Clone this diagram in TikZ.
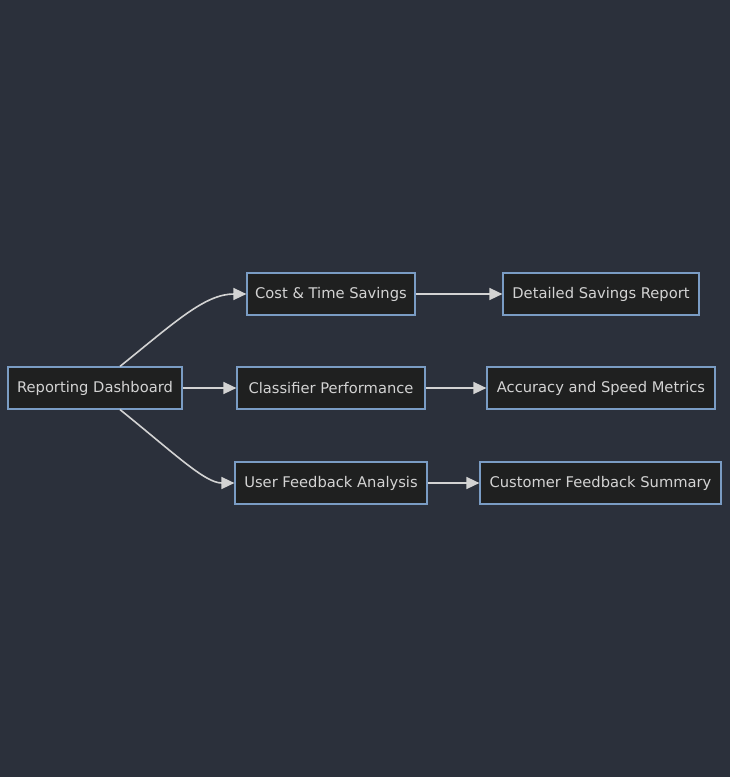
\documentclass[tikz,border=0pt]{standalone}
\usepackage{fontspec}
\setmainfont{DejaVu Sans}
\usetikzlibrary{arrows.meta}
\definecolor{bgdark}{HTML}{2B303B}
\definecolor{boxfill}{HTML}{1F2020}
\definecolor{boxline}{HTML}{7A9CC4}
\definecolor{inkgray}{HTML}{D3D3D3}
\begin{document}
\begin{tikzpicture}[x=1pt,y=-1pt,
  box/.style={draw=boxline, line width=1.2pt, fill=boxfill, text=inkgray,
    minimum height=42pt, inner sep=0pt, font=\fontsize{14.7}{17}\selectfont},
  link/.style={draw=inkgray, line width=1.6pt, -{Triangle[length=13pt,width=12pt]}}]
\fill[bgdark] (0,0) rectangle (730,777);
\useasboundingbox (0,0) rectangle (730,777);
\node[box, minimum width=174pt] (dash) at (95,388) {Reporting Dashboard};
\node[box, minimum width=168pt] (cost) at (331,294) {Cost \& Time Savings};
\node[box, minimum width=188pt] (perf) at (331,388) {Classifier Performance};
\node[box, minimum width=192pt] (user) at (331,483) {User Feedback Analysis};
\node[box, minimum width=196pt] (saving) at (601,294) {Detailed Savings Report};
\node[box, minimum width=228pt] (metric) at (601,388) {Accuracy and Speed Metrics};
\node[box, minimum width=241pt] (summary) at (600.5,483) {Customer Feedback Summary};
% curved links out of the dashboard
\draw[link] ([xshift=25pt]dash.north) .. controls (175,322) and (205,294) .. (cost.west);
\draw[link] ([xshift=25pt]dash.south) .. controls (175,454) and (205,483) .. (user.west);
\draw[link] (dash) -- (perf);
% second column
\draw[link] (cost) -- (saving);
\draw[link] (perf) -- (metric);
\draw[link] (user) -- (summary);
\end{tikzpicture}
\end{document}
